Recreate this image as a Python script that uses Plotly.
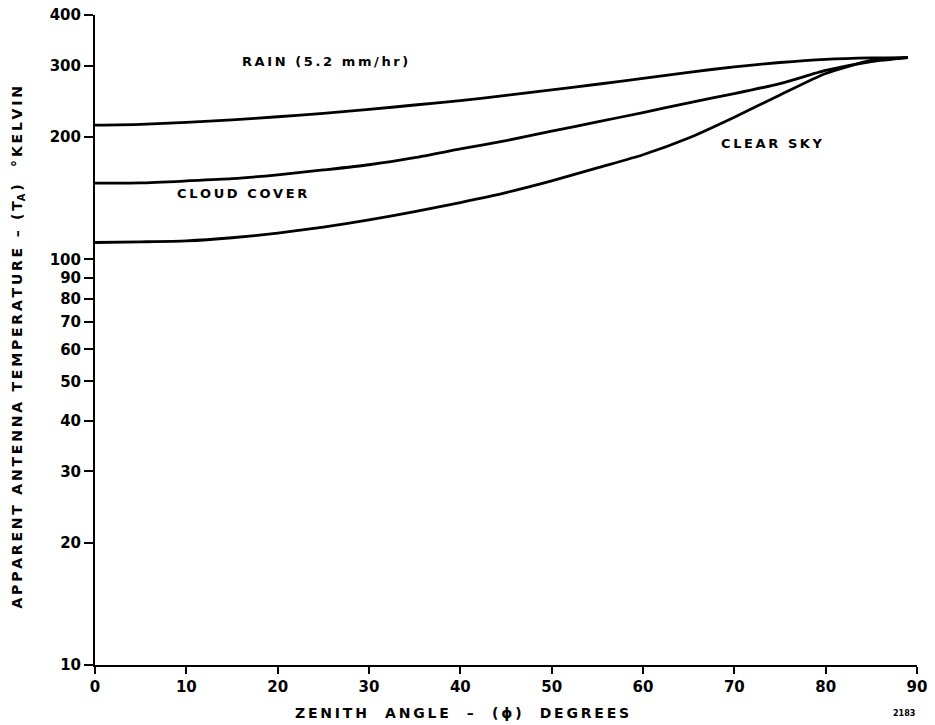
import plotly.graph_objects as go

# Zenith angle (degrees) and apparent antenna temperature (K) for each sky condition
angle = [0, 5, 10, 15, 20, 25, 30, 35, 40, 45, 50, 55, 60, 65, 70, 75, 80, 85, 89]
rain_temp = [214, 215, 217.5, 220.5, 224.5, 229, 234, 240, 246, 253.5,
             261.5, 270, 279, 289, 298, 305.5, 311, 313.5, 314]
cloud_temp = [154, 154.3, 156, 158, 161.5, 166, 171, 178, 187, 196,
              207, 218, 230, 243, 256, 271, 292, 307, 314]
clear_temp = [110, 110.4, 111, 113, 116, 120, 125, 131, 138, 146,
              156, 168, 181, 199, 224, 254, 287, 309, 314]

x_ticks = [0, 10, 20, 30, 40, 50, 60, 70, 80, 90]
y_ticks = [10, 20, 30, 40, 50, 60, 70, 80, 90, 100, 200, 300, 400]

FONT = "DejaVu Sans"
INK = "black"
THIN = "\u2009"


def spaced(text):
    """Open up the lettering with a thin space between characters."""
    return THIN.join(text)


fig = go.Figure()
for temps in (rain_temp, cloud_temp, clear_temp):
    fig.add_trace(go.Scatter(
        x=angle, y=temps, mode="lines",
        line=dict(color=INK, width=2.8, shape="spline", smoothing=0.6),
        showlegend=False, hoverinfo="skip",
    ))

axis_common = dict(
    showgrid=False, zeroline=False, showline=True, linecolor=INK, linewidth=2,
    ticks="outside", tickwidth=2, tickcolor=INK, automargin=False,
    tickfont=dict(family=FONT, size=15, color=INK, weight="bold"),
)

fig.update_layout(
    width=935, height=725,
    margin=dict(l=95, r=18, t=15, b=60),
    paper_bgcolor="white", plot_bgcolor="white",
    font=dict(family=FONT, color=INK),
    xaxis=dict(range=[0, 90], tickvals=x_ticks,
               ticktext=[str(v) for v in x_ticks], ticklen=7, **axis_common),
    yaxis=dict(type="log", range=[1, 2.60206], tickvals=y_ticks,
               ticktext=[str(v) for v in y_ticks], ticklen=9, **axis_common),
)


def label(text, x, y, size=13, angle=0, xanchor="center"):
    fig.add_annotation(
        text=text, x=x, y=y, xref="paper", yref="paper", showarrow=False,
        xanchor=xanchor, yanchor="middle", textangle=angle,
        font=dict(family=FONT, size=size, color=INK, weight="bold"),
    )


label(spaced("RAIN (5.2 mm/hr)"), 0.280, 0.928)
label(spaced("CLOUD COVER"), 0.179, 0.726)
label(spaced("CLEAR SKY"), 0.824, 0.803)
label(spaced("ZENITH  ANGLE  –  (ϕ)  DEGREES"), 0.447, -0.074, size=14)

y_title = (spaced("APPARENT ANTENNA TEMPERATURE – (")
           + THIN + "T<sub>A</sub>" + THIN + ")" + THIN + "   "
           + spaced("°KELVIN"))
label(y_title, -0.094, 0.488, size=14, angle=-90)
label("2183", 1.0, -0.074, size=8, xanchor="right")

fig.write_html("out.html")
